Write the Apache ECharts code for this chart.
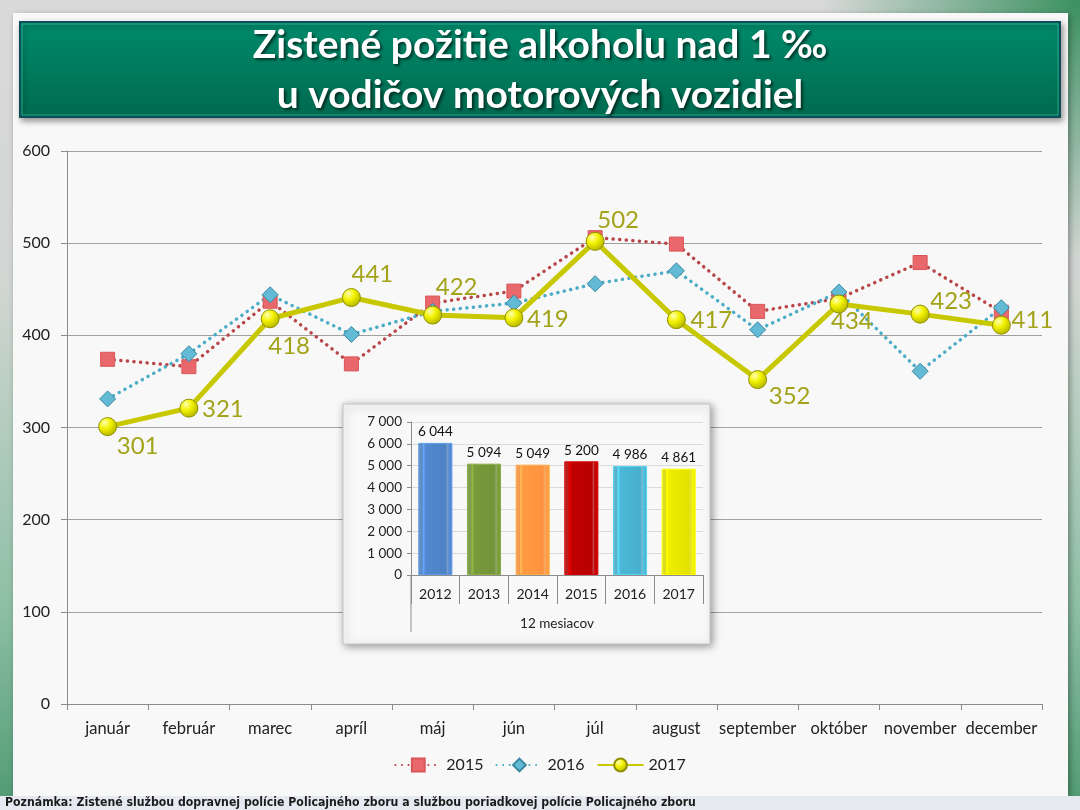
<!DOCTYPE html>
<html>
<head>
<meta charset="utf-8">
<script src="https://cdn.jsdelivr.net/npm/echarts@6/dist/echarts.min.js"></script>
<style>
  html, body { margin: 0; padding: 0; }
  body {
    width: 1080px; height: 810px; position: relative; overflow: hidden;
    background:
      radial-gradient(circle at 100% 0%, rgba(50,140,90,0.95) 0, rgba(50,140,90,0) 260px),
      linear-gradient(180deg, #dadada 0%, #d2d6d3 35%, #8dbfa4 75%, #4f9a72 100%);
  }
  #panel {
    position: absolute; left: 13px; top: 13px; width: 1055px; height: 783px;
    background: #f8f8f8; box-shadow: 2px 2px 6px rgba(0,0,0,0.35);
  }
  #chart { position: absolute; left: 0; top: 0; width: 1080px; height: 810px; }
</style>
</head>
<body>
<div id="panel"></div>
<div id="chart"></div>
<script>
const months = ['január', 'február', 'marec', 'apríl', 'máj', 'jún', 'júl', 'august', 'september', 'október', 'november', 'december'];
const values2015 = [374, 366, 437, 369, 435, 448, 506, 499, 426, 440, 479, 425];
const values2016 = [331, 380, 444, 401, 426, 435, 456, 470, 406, 447, 361, 430];
const values2017 = [301, 321, 418, 441, 422, 419, 502, 417, 352, 434, 423, 411];

const years = ['2012', '2013', '2014', '2015', '2016', '2017'];
const yearTotals = [6044, 5094, 5049, 5200, 4986, 4861];

// label offsets for the 2017 values (px from the point)
const labelOffsets = [[30, 20], [34, 1], [19, 28], [21, -23], [24, -28], [34, 1],
  [23, -21], [35, 1], [32, 17], [13, 17], [31, -13], [31, -5]];

const barColors = ['#4a7cbc', '#6e8c36', '#f28c3c', '#b00000', '#45a8c4', '#d8d800'];

const font = 'Lato, "Open Sans", sans-serif';
const fmtSpace = v => String(v).replace(/\B(?=(\d{3})+(?!\d))/g, ' ');
const lift = echarts.color.lift;

const chart = echarts.init(document.getElementById('chart'), null, { renderer: 'canvas' });

const data2017 = values2017.map((v, i) => ({
  value: v,
  label: { offset: labelOffsets[i] }
}));

// bevelled look for the small bars
const barData = yearTotals.map((v, i) => {
  const c = barColors[i];
  return {
    value: v,
    itemStyle: {
      color: new echarts.graphic.LinearGradient(0, 0, 1, 0, [
        { offset: 0, color: lift(c, 0.2) },
        { offset: 0.11, color: lift(c, 0.1) },
        { offset: 0.15, color: lift(c, -0.35) },
        { offset: 0.22, color: lift(c, -0.1) },
        { offset: 0.8, color: lift(c, -0.05) },
        { offset: 0.86, color: lift(c, 0.25) },
        { offset: 0.9, color: lift(c, -0.15) },
        { offset: 1, color: lift(c, -0.05) }
      ]),
      borderColor: lift(c, -0.25),
      borderWidth: 1
    }
  };
});

const option = {
  animation: false,
  textStyle: { fontFamily: font },
  graphic: [
    {
      type: 'rect', z: 0,
      shape: { x: 20, y: 22, width: 1040, height: 95 },
      style: {
        fill: new echarts.graphic.LinearGradient(0, 0, 0, 1, [
          { offset: 0, color: '#008a6b' }, { offset: 1, color: '#006a50' }
        ]),
        stroke: '#0c4d58', lineWidth: 2,
        shadowBlur: 6, shadowColor: 'rgba(0,0,0,0.4)', shadowOffsetX: 2, shadowOffsetY: 3
      }
    },
    {
      type: 'rect', z: 0,
      shape: { x: 22, y: 24, width: 1036, height: 91 },
      style: { fill: 'none', stroke: 'rgba(60,210,170,0.6)', lineWidth: 1 }
    },
    {
      type: 'text', z: 1, x: 540, y: 70,
      style: {
        text: 'Zistené požitie alkoholu nad 1 ‰\nu vodičov motorových vozidiel',
        fill: '#ffffff', fontSize: 39, fontWeight: 'bold', lineHeight: 50, fontFamily: font,
        align: 'center', verticalAlign: 'middle',
        textShadowColor: 'rgba(0,0,0,0.6)', textShadowBlur: 3, textShadowOffsetX: 2, textShadowOffsetY: 2
      }
    },
    {
      type: 'rect', z: 1,
      shape: { x: 343, y: 404, width: 367, height: 240 },
      style: {
        fill: '#f8f8f8', stroke: '#c4c4c4', lineWidth: 1,
        shadowBlur: 8, shadowColor: 'rgba(0,0,0,0.4)', shadowOffsetX: 2, shadowOffsetY: 2
      }
    },
    {
      type: 'line', z: 3,
      shape: { x1: 411, y1: 575, x2: 411, y2: 632 },
      style: { stroke: '#8c8c8c', lineWidth: 1 }
    },
    {
      type: 'rect', z: 0,
      shape: { x: 0, y: 796, width: 1080, height: 14 },
      style: { fill: '#e6eaf0' }
    },
    {
      type: 'text', z: 1, x: 5, y: 803,
      style: {
        text: 'Poznámka: Zistené službou dopravnej polície Policajného zboru a službou poriadkovej polície Policajného zboru',
        fill: '#1c1c1c', fontSize: 12.2, fontWeight: 'bold',
        fontFamily: '"Liberation Sans Narrow", "DejaVu Sans Condensed", sans-serif',
        verticalAlign: 'middle'
      }
    }
  ],
  legend: {
    data: ['2015', '2016', '2017'],
    left: 'center',
    top: 752,
    itemWidth: 46,
    itemHeight: 16,
    itemGap: 12,
    textStyle: { fontSize: 16, color: '#222', fontFamily: font }
  },
  grid: [
    { left: 67, right: 38, top: 151, bottom: 106 },
    { left: 411, top: 422, width: 292, height: 153, z: 3 }
  ],
  xAxis: [
    {
      gridIndex: 0, type: 'category', data: months,
      axisLine: { lineStyle: { color: '#8c8c8c' } },
      axisTick: { show: true, length: 6, lineStyle: { color: '#8c8c8c' } },
      axisLabel: { color: '#222', fontSize: 16.5, margin: 16, interval: 0, fontFamily: font }
    },
    {
      gridIndex: 1, type: 'category', data: years, z: 3,
      axisLine: { lineStyle: { color: '#8c8c8c' } },
      axisTick: { show: true, length: 29, lineStyle: { color: '#8c8c8c' } },
      axisLabel: { color: '#222', fontSize: 14, margin: 12, fontFamily: font }
    },
    {
      gridIndex: 1, type: 'category', data: ['12 mesiacov'], position: 'bottom', offset: 30, z: 3,
      axisLine: { show: false }, axisTick: { show: false },
      axisLabel: { color: '#222', fontSize: 13.5, margin: 12, fontFamily: font }
    }
  ],
  yAxis: [
    {
      gridIndex: 0, type: 'value', min: 0, max: 600, interval: 100,
      axisLine: { show: true, lineStyle: { color: '#8c8c8c' } },
      axisTick: { show: true, length: 6, lineStyle: { color: '#8c8c8c' } },
      splitLine: { lineStyle: { color: '#a0a0a0' } },
      axisLabel: { color: '#222', fontSize: 16, margin: 17, fontFamily: font }
    },
    {
      gridIndex: 1, type: 'value', min: 0, max: 7000, interval: 1000, z: 3,
      axisLine: { show: true, lineStyle: { color: '#8c8c8c' } },
      axisTick: { show: true, length: 4, lineStyle: { color: '#8c8c8c' } },
      splitLine: { lineStyle: { color: '#dadada' } },
      axisLabel: { color: '#222', fontSize: 13.5, margin: 9, formatter: fmtSpace, fontFamily: font }
    }
  ],
  series: [
    {
      name: '2015', type: 'line', xAxisIndex: 0, yAxisIndex: 0, z: 2,
      data: values2015,
      symbol: 'rect', symbolSize: 14,
      itemStyle: { color: '#e8686b', borderColor: '#d95558', borderWidth: 1 },
      lineStyle: { color: '#b9474a', width: 3.5, type: [0.1, 6.5], cap: 'round' }
    },
    {
      name: '2016', type: 'line', xAxisIndex: 0, yAxisIndex: 0, z: 2,
      data: values2016,
      symbol: 'diamond', symbolSize: 16,
      itemStyle: { color: '#62bad4', borderColor: '#3a88a3', borderWidth: 1 },
      lineStyle: { color: '#4bacc6', width: 3.5, type: [0.1, 6.5], cap: 'round' }
    },
    {
      name: '2017', type: 'line', xAxisIndex: 0, yAxisIndex: 0, z: 2,
      data: data2017,
      symbol: 'circle', symbolSize: 18,
      itemStyle: {
        color: new echarts.graphic.RadialGradient(0.35, 0.3, 0.8, [
          { offset: 0, color: '#ffffb0' }, { offset: 0.4, color: '#f2f200' }, { offset: 1, color: '#a8a800' }
        ]),
        borderColor: '#8f8f00', borderWidth: 1
      },
      lineStyle: { color: '#c8c800', width: 5 },
      label: {
        show: true, position: 'inside', color: '#a3a31a', fontSize: 24, fontFamily: font
      }
    },
    {
      name: '12 mesiacov', type: 'bar', xAxisIndex: 1, yAxisIndex: 1, z: 4,
      data: barData,
      barWidth: '70%',
      label: {
        show: true, position: 'top', distance: 4, color: '#111', fontSize: 13.5,
        formatter: p => fmtSpace(p.value), fontFamily: font
      }
    }
  ]
};

chart.setOption(option);
</script>
</body>
</html>
